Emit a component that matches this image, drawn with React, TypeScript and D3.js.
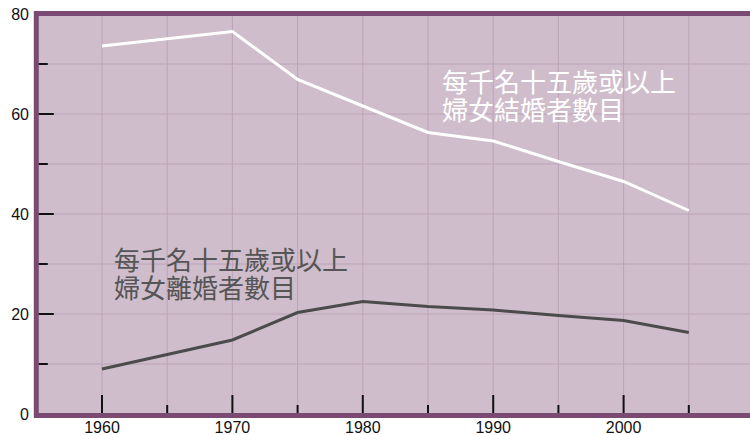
import React, {Component} from 'react';
import * as d3 from "d3"

// values (per 1000 women aged 15+)
const marriedYears = [1960, 1970, 1975, 1980, 1985, 1990, 1995, 2000, 2005]
const married = [73.6, 76.5, 66.9, 61.6, 56.3, 54.6, 50.5, 46.5, 40.7]
const divorcedYears = [1960, 1970, 1975, 1980, 1985, 1990, 1995, 2000, 2005]
const divorced = [9.0, 14.8, 20.3, 22.5, 21.5, 20.8, 19.7, 18.7, 16.3]
const yTickLabels = [0, 20, 40, 60, 80]
const xTickLabels = [1960, 1970, 1980, 1990, 2000]
const marriedLabel = ["每千名十五歲或以上", "婦女結婚者數目"]
const divorcedLabel = ["每千名十五歲或以上", "婦女離婚者數目"]

interface ChartProps {}
interface ChartState {}

class MarriageChart extends Component<ChartProps, ChartState> {
  private ref = React.createRef<SVGSVGElement>()

  renderChart() {
    const width = 750
    const svg = d3.select(this.ref.current)
    svg.selectAll("*").remove()

    const x = d3.scaleLinear().domain([1955, 2010]).range([36.8, 754])
    const y = d3.scaleLinear().domain([0, 80]).range([414, 14])

    const bg = "#cfbdcb"
    const frame = "#7b4a72"
    const grid = "#bca4b9"

    // plot background
    svg.append("rect")
      .attr("x", x(1955)).attr("y", y(80))
      .attr("width", width - x(1955) + 10).attr("height", y(0) - y(80))
      .attr("fill", bg)

    // grid
    const gx = d3.range(1960, 2011, 5)
    svg.append("g").selectAll("line").data(gx).join("line")
      .attr("x1", d => x(d)).attr("x2", d => x(d))
      .attr("y1", y(80)).attr("y2", y(0))
      .attr("stroke", grid).attr("stroke-width", 1)
    const gy = d3.range(10, 80, 10)
    svg.append("g").selectAll("line").data(gy).join("line")
      .attr("x1", x(1955)).attr("x2", width + 10)
      .attr("y1", d => y(d)).attr("y2", d => y(d))
      .attr("stroke", grid).attr("stroke-width", 1)

    // ticks inside the frame
    const xt = d3.range(1960, 2006, 5)
    svg.append("g").selectAll("line").data(xt).join("line")
      .attr("x1", d => x(d)).attr("x2", d => x(d))
      .attr("y1", y(0) - 1).attr("y2", d => y(0) - (d % 10 === 0 ? 19 : 9))
      .attr("stroke", "#111").attr("stroke-width", 2)
    const yt = d3.range(10, 80, 10)
    svg.append("g").selectAll("line").data(yt).join("line")
      .attr("x1", x(1955)).attr("x2", d => x(1955) + (d % 20 === 0 ? 17 : 11))
      .attr("y1", d => y(d)).attr("y2", d => y(d))
      .attr("stroke", "#111").attr("stroke-width", 2)

    const line = d3.line<[number, number]>()
      .x(d => x(d[0])).y(d => y(d[1]))

    svg.append("path")
      .datum(divorcedYears.map((yr, i) => [yr, divorced[i]] as [number, number]))
      .attr("d", line)
      .attr("fill", "none").attr("stroke", "#4b4b4b").attr("stroke-width", 3)

    svg.append("path")
      .datum(marriedYears.map((yr, i) => [yr, married[i]] as [number, number]))
      .attr("d", line)
      .attr("fill", "none").attr("stroke", "#ffffff").attr("stroke-width", 3)

    // frame: top, left and bottom borders
    svg.append("path")
      .attr("d", `M${width + 10},${y(80) - 0.5} H${x(1955) - 0.5} V${y(0) + 1.5} H${width + 10}`)
      .attr("fill", "none").attr("stroke", frame).attr("stroke-width", 5)

    // axis labels
    svg.append("g").selectAll("text").data(yTickLabels).join("text")
      .attr("x", 29).attr("y", d => y(d) + 6)
      .attr("text-anchor", "end")
      .attr("font-family", "Liberation Sans, Arial, sans-serif")
      .attr("font-size", 16).attr("fill", "#111")
      .text(d => d)

    svg.append("g").selectAll("text").data(xTickLabels).join("text")
      .attr("x", d => x(d)).attr("y", 433)
      .attr("text-anchor", "middle")
      .attr("font-family", "Liberation Sans, Arial, sans-serif")
      .attr("font-size", 16).attr("fill", "#111")
      .text(d => d)

    // series labels
    const cjk = "'Noto Sans CJK TC', 'Noto Sans CJK SC', sans-serif"
    svg.append("g").selectAll("text").data(marriedLabel).join("text")
      .attr("x", 442).attr("y", (d, i) => 92 + i * 28)
      .attr("font-family", cjk).attr("font-size", 26).attr("fill", "#ffffff")
      .text(d => d)
    svg.append("g").selectAll("text").data(divorcedLabel).join("text")
      .attr("x", 114).attr("y", (d, i) => 270 + i * 28)
      .attr("font-family", cjk).attr("font-size", 26).attr("fill", "#555555")
      .text(d => d)
  }

  componentDidMount() {
    this.renderChart()
  }

  public render(): JSX.Element {
    return (
      <div style={{position: "absolute", left: 0, top: 0, width: 750, height: 435, background: "#fff"}}>
        <svg ref={this.ref} width={750} height={435} style={{display: "block"}} />
      </div>
    )
  }
}

export default function App() {
  return <MarriageChart />
}
